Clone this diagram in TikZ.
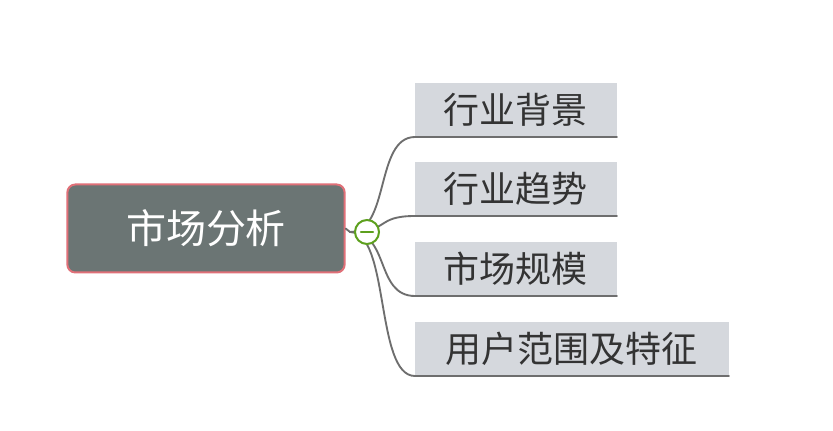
\documentclass[tikz,border=0pt]{standalone}
\usepackage{fontspec}
\setmainfont{Noto Sans CJK SC}
\usetikzlibrary{positioning}
\definecolor{rootfill}{HTML}{6B7574}
\definecolor{rootline}{HTML}{E07078}
\definecolor{leaffill}{HTML}{D5D8DD}
\definecolor{linkgray}{HTML}{6E6E6E}
\definecolor{foldgreen}{HTML}{5DA01E}
\tikzset{
  rootbox/.style={draw=rootline,line width=1.5pt,fill=rootfill,rounded corners=6pt,
    minimum width=208pt,minimum height=66pt,text=white,font=\fontsize{30}{34}\selectfont},
  leafbox/.style={fill=leaffill,anchor=south west,minimum height=40pt,inner xsep=15pt,
    text=black!80,font=\fontsize{27}{30}\selectfont},
  link/.style={linkgray,line width=1.4pt}
}
\begin{document}
\begin{tikzpicture}[x=0.75pt,y=-0.75pt,line cap=round]
  \useasboundingbox (0,0) rectangle (833,431);
  \fill[white] (0,0) rectangle (833,431);

  \node[rootbox] (root) at (206,228.5) {市场分析};
  \coordinate (hub) at (350,232);
  \coordinate (bend) at (375,232);

  % leaves
  \node[leafbox,minimum width=151pt] (bg) at (415,137) {行业背景};
  \node[leafbox,minimum width=151pt] (trend) at (415,216) {行业趋势};
  \node[leafbox,minimum width=151pt] (scale) at (415,296) {市场规模};
  \node[leafbox,minimum width=235pt] (user) at (415,376) {用户范围及特征};

  % links
  \foreach \leaf in {bg,trend,scale,user}{
    \draw[link] (hub) .. controls ([xshift=30pt]hub) and (bend |- \leaf.south west) .. (\leaf.south west)
      -- (\leaf.south east);
  }
  \draw[link] (root.east) -- (hub);

  % fold button
  \node[circle,draw=foldgreen,line width=1.5pt,fill=white,minimum size=18pt,inner sep=0pt] (fold) at (367,232) {};
  \draw[foldgreen,line width=1.6pt] ([xshift=-4.5pt]fold.center) -- ([xshift=4.5pt]fold.center);
\end{tikzpicture}
\end{document}
